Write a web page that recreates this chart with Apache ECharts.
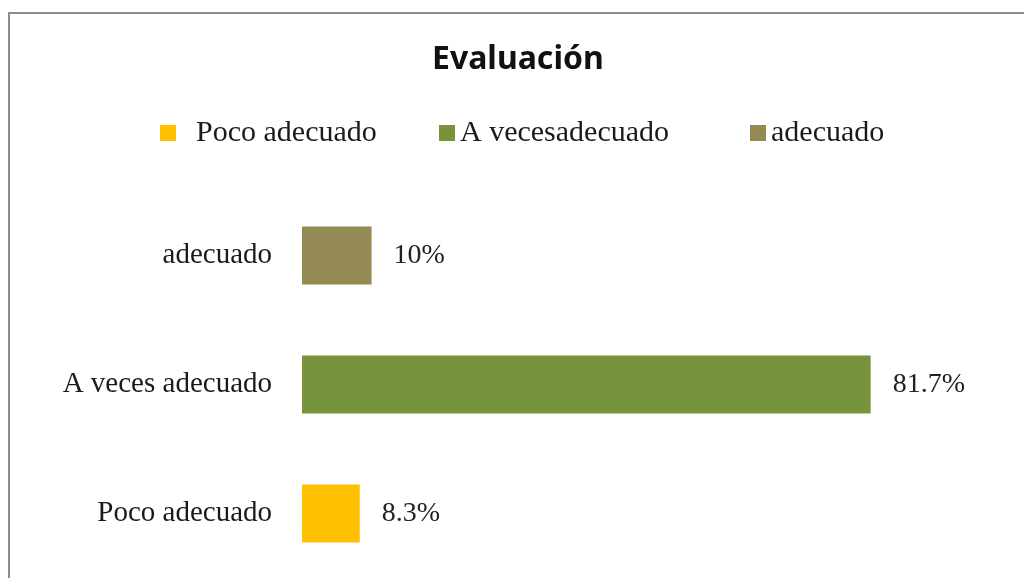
<!DOCTYPE html>
<html>
<head>
<meta charset="utf-8">
<script src="https://cdn.jsdelivr.net/npm/echarts@6/dist/echarts.min.js"></script>
<style>
  html, body { margin: 0; padding: 0; background: #fff; }
  #wrap { position: relative; width: 1024px; height: 578px; overflow: hidden; }
  #frame { position: absolute; left: 8px; top: 12px; width: 1030px; height: 600px;
           border-top: 2px solid #8c8c8c; border-left: 2px solid #8c8c8c; }
  #main { position: absolute; left: 0; top: 0; width: 1024px; height: 578px; }
</style>
</head>
<body>
<div id="wrap">
  <div id="frame"></div>
  <div id="main"></div>
</div>
<script>
// categorias del eje (de abajo hacia arriba)
var categorias = ["Poco adecuado", "A veces adecuado", "adecuado"];
// nombres tal como salen en la leyenda
var nombresLeyenda = ["Poco adecuado", "A vecesadecuado", "adecuado"];
// porcentajes de cada categoria
var valores = [8.3, 81.7, 10];
var colores = ["#FFC000", "#77933C", "#948A54"];

var chart = echarts.init(document.getElementById("main"));

// una serie por categoria, apiladas para que la barra quede centrada
var series = nombresLeyenda.map(function (nombre, i) {
  var datos = categorias.map(function (c, j) { return j === i ? valores[i] : "-"; });
  return {
    name: nombre,
    type: "bar",
    stack: "total",
    barWidth: 58,
    itemStyle: { color: colores[i] },
    label: {
      show: true,
      position: "right",
      distance: 22,
      fontFamily: "Liberation Serif",
      fontSize: 28,
      color: "#222",
      formatter: function (p) { return p.value + "%"; }
    },
    data: datos
  };
});

var legendPos = [155, 434, 745];
var legends = nombresLeyenda.map(function (nombre, i) {
  return {
    data: [nombre],
    left: legendPos[i],
    top: 113,
    icon: "rect",
    itemWidth: 16,
    itemHeight: 16,
    itemGap: 0,
    textStyle: {
      fontFamily: "Liberation Serif",
      fontSize: 30,
      color: "#1a1a1a",
      padding: [0, 0, 0, i === 0 ? 15 : 0]
    }
  };
});

var option = {
  animation: false,
  title: {
    text: "Evaluación",
    left: 427,
    top: 39,
    textStyle: {
      fontFamily: "Noto Sans",
      fontWeight: "bold",
      fontSize: 32,
      color: "#111"
    }
  },
  legend: legends,
  grid: { left: 302, right: 26, top: 191, bottom: 0 },
  xAxis: {
    type: "value",
    min: 0,
    max: 100,
    show: false
  },
  yAxis: {
    type: "category",
    data: categorias,
    axisLine: { show: false },
    axisTick: { show: false },
    axisLabel: {
      margin: 30,
      fontFamily: "Liberation Serif",
      fontSize: 29,
      color: "#1a1a1a"
    }
  },
  series: series
};

chart.setOption(option);
</script>
</body>
</html>
